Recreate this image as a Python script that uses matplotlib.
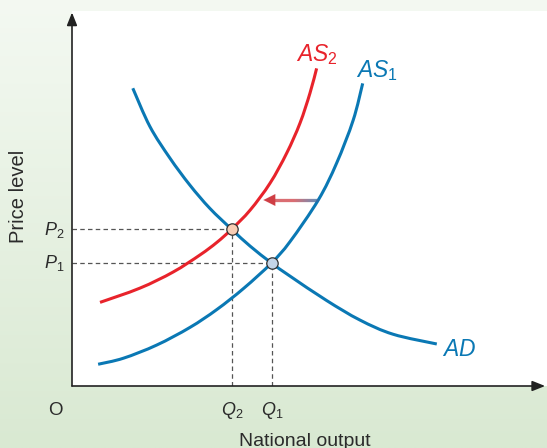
import numpy as np
import matplotlib
matplotlib.use("Agg")
import matplotlib.pyplot as plt
from matplotlib.collections import LineCollection
from matplotlib.colors import to_rgb
from matplotlib.path import Path
from matplotlib.patches import PathPatch

plt.rcParams['font.family'] = ['Liberation Sans', 'DejaVu Sans']
plt.rcParams['mathtext.fontset'] = 'custom'
plt.rcParams['mathtext.it'] = 'Liberation Sans:italic'
plt.rcParams['mathtext.rm'] = 'Liberation Sans'
plt.rcParams['mathtext.default'] = 'it'

# ---------------- data ----------------
AD_q = [12.8, 16.4, 20.6, 24.8, 29.0, 33.6, 37.5, 42.0, 45.9, 53.6, 60.6, 67.6, 76.8]
AD_p = [79.4, 69.2, 60.8, 53.6, 47.4, 41.8, 37.3, 32.8, 29.3, 22.8, 17.6, 13.8, 11.2]

AS2_q = [5.9, 14.3, 21.3, 27.0, 30.5, 33.6, 37.5, 41.7, 45.2, 48.0, 50.1, 51.5]
AS2_p = [22.3, 26.1, 30.4, 35.0, 38.3, 41.8, 46.9, 54.1, 62.1, 70.1, 78.1, 84.7]

AS1_q = [5.5, 10.8, 17.8, 24.8, 30.5, 36.2, 42.0, 45.9, 51.85, 55.7, 59.2, 61.2]
AS1_p = [5.8, 7.4, 10.9, 15.6, 20.4, 26.1, 32.8, 38.5, 49.6, 59.4, 70.9, 80.7]

Q_eq = [42.0, 33.6]   # Q1, Q2
P_eq = [32.8, 41.8]   # P1, P2
eq_fill = ['#c3d5e8', '#f8cdb4']

shift_p = 49.6
shift_from_q = 51.85
shift_to_q = 40.3

BLUE = '#0a78b4'
RED = '#e8232b'
TXT = '#2b2b2b'

W, H = 547, 448
fig = plt.figure(figsize=(W / 100, H / 100), dpi=100)

def fx(px):
    return px / W

def fy(py):
    return 1 - py / H

def smooth_path(xs, ys):
    """Cubic Bezier path through every point (Catmull-Rom tangents)."""
    P = np.column_stack([xs, ys]).astype(float)
    n = len(P)
    verts = [P[0]]
    codes = [Path.MOVETO]
    for i in range(n - 1):
        p0 = P[i - 1] if i > 0 else P[i]
        p1 = P[i]
        p2 = P[i + 1]
        p3 = P[i + 2] if i + 2 < n else P[i + 1]
        c1 = p1 + (p2 - p0) / 6.0
        c2 = p2 - (p3 - p1) / 6.0
        verts += [c1, c2, p2]
        codes += [Path.CURVE4] * 3
    return Path(verts, codes)

# background gradient
bg = fig.add_axes([0, 0, 1, 1], zorder=-10)
top = np.array(to_rgb('#f4f9f2'))
bot = np.array(to_rgb('#d9e9d2'))
t = np.linspace(0, 1, 256)[:, None]
grad = top[None, :] * (1 - t) + bot[None, :] * t
bg.imshow(grad[:, None, :].repeat(4, axis=1), aspect='auto', extent=[0, 1, 0, 1])
bg.set_axis_off()

# main axes: px x 72..547, y 11..386
ax = fig.add_axes([fx(72), fy(386), (547 - 72) / W, (386 - 11) / H])
ax.set_facecolor('white')
ax.set_xlim(0, 100)
ax.set_ylim(0, 100)
for s in ax.spines.values():
    s.set_visible(False)
ax.set_xticks([])
ax.set_yticks([])

# axes with arrows
arrow_kw = dict(arrowstyle='-|>,head_length=0.55,head_width=0.22', color='#222222',
                lw=1.2, shrinkA=0, shrinkB=0, mutation_scale=14)
ax.annotate('', xy=(0, 99.6), xytext=(0, 0), arrowprops=arrow_kw, annotation_clip=False)
ax.annotate('', xy=(99.6, 0), xytext=(0, 0), arrowprops=arrow_kw, annotation_clip=False)

# dashed guide lines
dash = (0, (3.6, 2.6))
for q, p in zip(Q_eq, P_eq):
    ax.plot([0, q], [p, p], color='#555555', lw=0.9, linestyle=dash, zorder=2)
    ax.plot([q, q], [0, p], color='#555555', lw=0.9, linestyle=dash, zorder=2)

# curves
for qs, ps, col, z in [(AS1_q, AS1_p, BLUE, 3), (AD_q, AD_p, BLUE, 3), (AS2_q, AS2_p, RED, 4)]:
    ax.add_patch(PathPatch(smooth_path(qs, ps), facecolor='none', edgecolor=col,
                           lw=2.2, capstyle='butt', zorder=z))

# shift arrow with gradient shaft
head_len = 2.3
xs = np.linspace(shift_from_q, shift_to_q + head_len * 0.8, 60)
segs = [[(xs[i], shift_p), (xs[i + 1], shift_p)] for i in range(len(xs) - 1)]
c_blue = np.array(to_rgb('#2f6ea8'))
c_red = np.array(to_rgb('#cf3e44'))
cols = []
for i in range(len(xs) - 1):
    f = i / (len(xs) - 2)  # 0 at right (blue), 1 at left
    w = min(1.0, f / 0.55)
    cols.append(tuple(c_blue * (1 - w) + c_red * w))
lc = LineCollection(segs, colors=cols, linewidths=2.3, zorder=5, capstyle='butt')
ax.add_collection(lc)
ax.annotate('', xy=(shift_to_q, shift_p), xytext=(shift_to_q + head_len, shift_p),
            arrowprops=dict(arrowstyle='-|>,head_length=0.6,head_width=0.3', color='#cf3e44',
                            lw=0.1, shrinkA=0, shrinkB=0, mutation_scale=14), zorder=6)

# equilibrium points
for q, p, fc in zip(Q_eq, P_eq, eq_fill):
    ax.plot([q], [p], marker='o', markersize=8.2, markerfacecolor=fc,
            markeredgecolor='#333333', markeredgewidth=0.9, zorder=7)

# texts
fig.text(fx(296), fy(61), r'$AS_2$', color=RED, fontsize=16.5, ha='left', va='baseline')
fig.text(fx(356), fy(77), r'$AS_1$', color=BLUE, fontsize=16.5, ha='left', va='baseline')
fig.text(fx(442), fy(356), r'$AD$', color=BLUE, fontsize=16.5, ha='left', va='baseline')

fig.text(fx(44), fy(235), r'$P_2$', color=TXT, fontsize=13, ha='left', va='baseline')
fig.text(fx(44), fy(268), r'$P_1$', color=TXT, fontsize=13, ha='left', va='baseline')
fig.text(fx(221), fy(415), r'$Q_2$', color=TXT, fontsize=13, ha='left', va='baseline')
fig.text(fx(261), fy(415), r'$Q_1$', color=TXT, fontsize=13, ha='left', va='baseline')
fig.text(fx(55), fy(415), 'O', color=TXT, fontsize=13.5, ha='center', va='baseline')

fig.text(fx(305), fy(446), 'National output', color=TXT, fontsize=14, ha='center', va='baseline')
fig.text(fx(19), fy(196), 'Price level', color=TXT, fontsize=14.5, ha='center', va='center',
         rotation=90)

fig.savefig('out.png', dpi=100)
